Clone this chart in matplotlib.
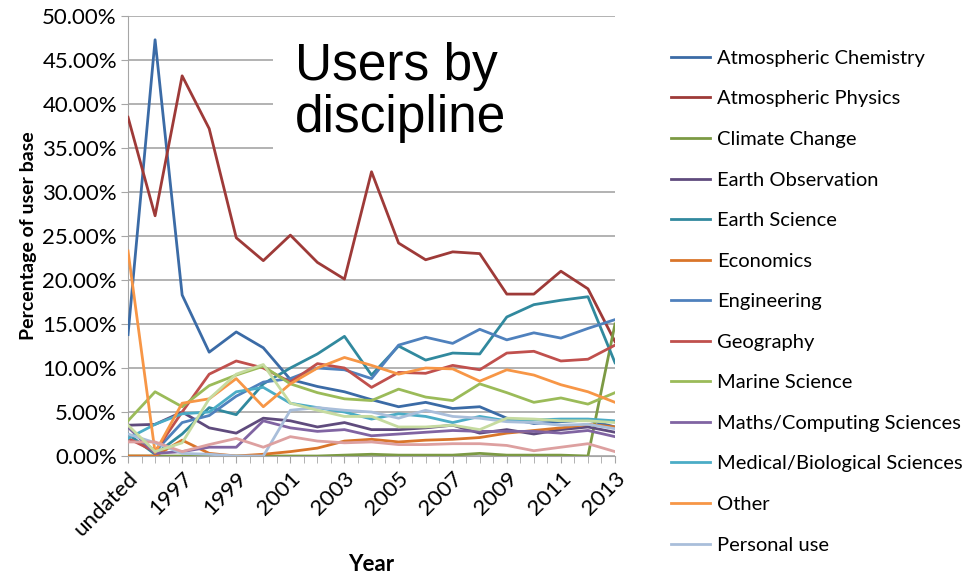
import matplotlib
matplotlib.use("Agg")
import matplotlib.pyplot as plt
from matplotlib.patches import Rectangle
from matplotlib.ticker import FuncFormatter, MultipleLocator

# categories on the x axis
years = ['undated'] + [str(y) for y in range(1996, 2014)]

# percentage of user base per discipline
atmos_chem = [13.8, 47.3, 18.3, 11.8, 14.1, 12.3, 8.7, 7.9, 7.3, 6.4, 5.6, 6.1, 5.4, 5.6, 4.3, 3.7, 3.9, 4.1, 3.3]
atmos_phys = [38.5, 27.3, 43.2, 37.2, 24.8, 22.2, 25.1, 22.0, 20.1, 32.3, 24.2, 22.3, 23.2, 23.0, 18.4, 18.4, 21.0, 19.0, 13.0]
climate = [0, 0, 0, 0, 0, 0, 0, 0, 0.1, 0.2, 0.1, 0.1, 0.1, 0.3, 0.1, 0.1, 0.1, 0.0, 15.0]
earth_obs = [3.5, 3.6, 5.0, 3.2, 2.6, 4.3, 4.0, 3.3, 3.8, 3.0, 3.0, 3.2, 3.5, 2.6, 3.0, 2.5, 3.0, 3.3, 2.7]
earth_sci = [2.5, 0.2, 2.5, 5.5, 4.7, 8.2, 10.0, 11.6, 13.6, 9.2, 12.5, 10.9, 11.7, 11.6, 15.8, 17.2, 17.7, 18.1, 10.6]
economics = [0.0, 0.0, 1.8, 0.3, 0.0, 0.2, 0.5, 0.9, 1.7, 1.9, 1.6, 1.8, 1.9, 2.1, 2.6, 2.9, 3.2, 3.6, 3.3]
engineering = [3.3, 0.5, 3.8, 4.6, 6.8, 8.4, 8.8, 10.0, 9.8, 8.8, 12.6, 13.5, 12.8, 14.4, 13.2, 14.0, 13.4, 14.5, 15.5]
geography = [2.0, 0.5, 5.0, 9.3, 10.8, 10.0, 8.4, 10.5, 10.0, 7.8, 9.5, 9.4, 10.3, 9.8, 11.7, 11.9, 10.8, 11.0, 12.6]
marine = [4.0, 7.3, 5.6, 8.0, 9.2, 10.2, 8.2, 7.2, 6.5, 6.3, 7.6, 6.7, 6.3, 8.2, 7.2, 6.1, 6.6, 5.9, 7.2]
maths = [3.3, 0.3, 0.5, 1.0, 1.0, 4.0, 3.2, 2.8, 3.0, 2.3, 2.5, 2.7, 2.9, 2.8, 2.8, 2.8, 2.6, 2.9, 2.2]
medical = [2.0, 3.6, 4.8, 5.0, 7.3, 7.8, 6.0, 5.5, 5.0, 4.2, 4.8, 4.5, 3.8, 4.5, 4.0, 4.1, 4.2, 4.2, 4.0]
other = [23.3, 0.4, 6.0, 6.5, 8.8, 5.6, 8.2, 10.0, 11.2, 10.3, 9.3, 10.0, 9.9, 8.5, 9.8, 9.2, 8.1, 7.3, 6.1]
personal = [2.5, 1.5, 0.3, 0.2, 0.0, 0.0, 5.2, 5.5, 5.2, 5.0, 4.3, 5.2, 4.5, 4.3, 3.9, 3.8, 3.5, 3.6, 3.1]
# two more series whose legend entries are cut off in the original
extra_pink = [1.6, 1.6, 0.5, 1.3, 2.0, 1.0, 2.2, 1.7, 1.5, 1.6, 1.3, 1.3, 1.4, 1.4, 1.2, 0.6, 1.0, 1.4, 0.5]
extra_green = [3.5, 0.5, 1.5, 6.5, 9.3, 10.4, 6.0, 5.2, 4.5, 4.5, 3.3, 3.3, 3.5, 3.0, 4.3, 4.2, 4.0, 4.0, 3.8]

series = [
    ('Atmospheric Chemistry', atmos_chem, '#3B6BA6'),
    ('Atmospheric Physics', atmos_phys, '#9E3A38'),
    ('Climate Change', climate, '#7C9A44'),
    ('Earth Observation', earth_obs, '#5F4B7D'),
    ('Earth Science', earth_sci, '#31899E'),
    ('Economics', economics, '#D9752A'),
    ('Engineering', engineering, '#4F81BD'),
    ('Geography', geography, '#C0504D'),
    ('Marine Science', marine, '#9BBB59'),
    ('Maths/Computing Sciences', maths, '#8064A2'),
    ('Medical/Biological Sciences', medical, '#4BACC6'),
    ('Other', other, '#F79646'),
    ('Personal use', personal, '#A9BEDA'),
    ('_nolegend_', extra_pink, '#DDA0A0'),
    ('_nolegend_', extra_green, '#C6DBA0'),
]

plt.rcParams['font.family'] = ['Lato', 'DejaVu Sans']

fig = plt.figure(figsize=(9.67, 5.76), dpi=100)
ax = fig.add_axes([0.1324, 0.2083, 0.5036, 0.7639])

x = list(range(len(years)))
for name, vals, col in series:
    ax.plot(x, vals, color=col, lw=2.0, label=name, zorder=3)

ax.set_xlim(0, len(years) - 1)
ax.set_ylim(0, 50)
ax.yaxis.set_major_locator(MultipleLocator(5))
ax.yaxis.set_major_formatter(FuncFormatter(lambda v, p: '%.2f%%' % v))
ax.grid(axis='y', color='#A6A6A6', lw=1.2)
ax.set_axisbelow(True)

# tick marks every half category, labels every second year
ax.set_xticks(x[::2])
ax.set_xticklabels(years[::2], rotation=45, ha='right', rotation_mode='anchor', fontsize=16)
ax.set_xticks([i + 0.5 for i in range(len(years) - 1)] + x[1::2], minor=True)
ax.tick_params(axis='x', which='both', length=5, color='#A6A6A6', pad=4)
ax.tick_params(axis='y', length=5, color='#A6A6A6', labelsize=16, pad=3)

for s in ['top', 'right']:
    ax.spines[s].set_visible(False)
for s in ['left', 'bottom']:
    ax.spines[s].set_color('#A6A6A6')

ax.set_xlabel('Year', fontsize=16, fontweight='bold', labelpad=10)
ax.set_ylabel('Percentage of user base', fontsize=14, fontweight='bold', labelpad=4)

# white title box that hides the upper gridlines
ax.add_patch(Rectangle((0.298, 0.627), 0.702, 0.362, transform=ax.transAxes,
                       facecolor='white', edgecolor='none', zorder=1))
fig.text(295 / 967, 1 - 42 / 576, 'Users by\ndiscipline', fontsize=37,
         family='Liberation Sans', va='top', ha='left', linespacing=1.08)

fig.legend(loc='upper left', bbox_to_anchor=(0.675, 0.945), frameon=False,
           fontsize=14.5, labelspacing=1.165, handlelength=1.93, handletextpad=0.35)

fig.savefig('out.png', dpi=100)
